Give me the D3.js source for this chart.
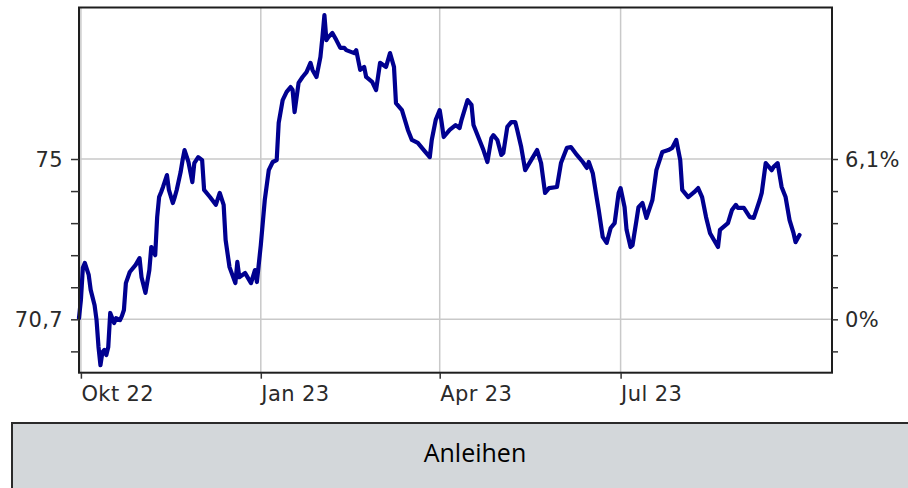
<!DOCTYPE html>
<html>
<head>
<meta charset="utf-8">
<script src="https://cdn.jsdelivr.net/npm/d3@7"></script>
<style>
  html, body { margin: 0; padding: 0; background: #fff; }
  svg { display: block; }
  .axis text { font-family: "DejaVu Sans", Verdana, sans-serif; font-size: 21px; letter-spacing: 0.4px; fill: #2a2a2a; }
  .axis line { stroke: #333; stroke-width: 1.5; }
  .axis path { display: none; }
</style>
</head>
<body>
<svg id="chart" width="908" height="488"></svg>
<script>
// ---------------- data ----------------
const dates = [
"2022-09-30","2022-10-01","2022-10-02","2022-10-03","2022-10-05","2022-10-06","2022-10-08","2022-10-09","2022-10-10","2022-10-11",
"2022-10-12","2022-10-13","2022-10-14","2022-10-15","2022-10-16","2022-10-18","2022-10-19","2022-10-21","2022-10-22","2022-10-23",
"2022-10-24","2022-10-26","2022-10-29","2022-10-31","2022-11-01","2022-11-03","2022-11-05","2022-11-06","2022-11-08","2022-11-09",
"2022-11-10","2022-11-11","2022-11-12","2022-11-14","2022-11-15","2022-11-17","2022-11-18","2022-11-19","2022-11-21","2022-11-22",
"2022-11-23","2022-11-25","2022-11-27","2022-11-28","2022-11-30","2022-12-02","2022-12-03","2022-12-06","2022-12-09","2022-12-11",
"2022-12-13","2022-12-14","2022-12-16","2022-12-19","2022-12-20","2022-12-21","2022-12-24","2022-12-27","2022-12-29","2022-12-30",
"2023-01-01","2023-01-03","2023-01-05","2023-01-07","2023-01-09","2023-01-10","2023-01-12","2023-01-14","2023-01-16","2023-01-17",
"2023-01-18","2023-01-20","2023-01-22","2023-01-24","2023-01-26","2023-01-27","2023-01-29","2023-01-31","2023-02-01","2023-02-02",
"2023-02-03","2023-02-04","2023-02-06","2023-02-08","2023-02-10","2023-02-12","2023-02-13","2023-02-17","2023-02-18","2023-02-20",
"2023-02-22","2023-02-23","2023-02-26","2023-02-28","2023-03-02","2023-03-05","2023-03-07","2023-03-09","2023-03-10","2023-03-13",
"2023-03-16","2023-03-18","2023-03-21","2023-03-24","2023-03-27","2023-03-28","2023-03-30","2023-04-01","2023-04-02","2023-04-03",
"2023-04-06","2023-04-09","2023-04-11","2023-04-12","2023-04-15","2023-04-17","2023-04-18","2023-04-21","2023-04-23","2023-04-25",
"2023-04-27","2023-04-28","2023-04-30","2023-05-02","2023-05-03","2023-05-05","2023-05-07","2023-05-09","2023-05-10","2023-05-12",
"2023-05-14","2023-05-17","2023-05-20","2023-05-22","2023-05-24","2023-05-26","2023-05-30","2023-06-01","2023-06-04","2023-06-06",
"2023-06-09","2023-06-12","2023-06-14","2023-06-15","2023-06-17","2023-06-19","2023-06-20","2023-06-22","2023-06-24","2023-06-26",
"2023-06-28","2023-06-30","2023-07-01","2023-07-03","2023-07-04","2023-07-06","2023-07-07","2023-07-09","2023-07-10","2023-07-12",
"2023-07-14","2023-07-17","2023-07-19","2023-07-22","2023-07-25","2023-07-27","2023-07-29","2023-07-31","2023-08-01","2023-08-04",
"2023-08-07","2023-08-09","2023-08-11","2023-08-13","2023-08-15","2023-08-19","2023-08-20","2023-08-24","2023-08-26","2023-08-28",
"2023-08-29","2023-09-01","2023-09-04","2023-09-06","2023-09-09","2023-09-10","2023-09-12","2023-09-15","2023-09-16","2023-09-18",
"2023-09-20","2023-09-22","2023-09-24","2023-09-26","2023-09-27","2023-09-29"
];
const values = [
70.73,71.22,72.08,72.21,71.89,71.49,71.08,70.68,69.96,69.47,
69.82,69.88,69.74,69.96,70.87,70.60,70.73,70.68,70.79,70.95,
71.67,71.97,72.16,72.34,71.83,71.41,72.02,72.64,72.42,73.44,
73.98,74.11,74.25,74.57,74.17,73.82,73.98,74.17,74.65,74.97,
75.24,74.92,74.38,74.89,75.05,74.97,74.17,73.98,73.77,74.09,
73.77,72.83,72.10,71.67,72.24,71.83,71.94,71.67,72.02,71.70,
72.69,73.90,74.70,74.92,74.97,75.97,76.58,76.80,76.93,76.85,
76.26,77.04,77.20,77.33,77.58,77.39,77.20,77.74,78.27,78.86,
78.19,78.27,78.38,78.19,77.98,77.98,77.92,77.84,77.92,77.39,
77.47,77.20,77.07,76.85,77.58,77.47,77.84,77.47,76.50,76.31,
75.78,75.51,75.43,75.24,75.05,75.51,76.05,76.31,75.97,75.59,
75.78,75.91,75.83,76.05,76.58,76.45,75.91,75.51,75.24,74.92,
75.56,75.64,75.51,75.11,75.16,75.86,75.99,75.99,75.78,75.32,
74.70,74.97,75.24,74.89,74.09,74.22,74.25,74.89,75.30,75.32,
75.11,74.92,74.76,74.92,74.62,73.95,73.63,72.91,72.75,73.15,
73.28,74.09,74.22,73.71,73.10,72.64,72.69,73.36,73.71,73.82,
73.42,73.90,74.70,75.19,75.24,75.30,75.51,74.97,74.17,73.98,
74.11,74.22,73.98,73.44,73.01,72.64,73.10,73.28,73.63,73.77,
73.69,73.69,73.44,73.42,73.90,74.09,74.89,74.70,74.79,74.89,
74.25,73.98,73.36,73.01,72.77,72.96
];

const xTickDates  = ["2022-10-01","2023-01-01","2023-04-01","2023-07-01"];
const xTickLabels = ["Okt 22","Jan 23","Apr 23","Jul 23"];

const yTickValues  = [69.84,70.7,71.56,72.42,73.28,74.14,75.0];
const yLabelValues = [70.7, 75.0];
const yLabels      = ["70,7","75"];
const rightLabels  = ["0%","6,1%"];
const yGridValues  = [70.7, 75.0];

const caption = "Anleihen";

// ---------------- layout ----------------
const W = 908, H = 488;
const plot = { left: 79, right: 832, top: 7.5, bottom: 372.7 };

const parse = d3.timeParse("%Y-%m-%d");
const data = dates.map((d, i) => ({ date: parse(d), value: values[i] }));

// equally spaced quarters (trading-day style axis)
const x = d3.scaleTime()
  .domain([parse("2022-10-01"), parse("2023-01-01"), parse("2023-07-01")])
  .range([80.9, 260.8, 620.6]);
const y = d3.scaleLinear()
  .domain([69.268, 79.064])
  .range([plot.bottom, plot.top]);

const svg = d3.select("#chart");
svg.append("rect").attr("width", W).attr("height", H).attr("fill", "#fff");

// grid
const grid = svg.append("g");
grid.selectAll("line.v").data(xTickDates.map(parse)).enter().append("line")
  .attr("x1", d => x(d)).attr("x2", d => x(d))
  .attr("y1", plot.top).attr("y2", plot.bottom)
  .attr("stroke", "#c9c9c9").attr("stroke-width", 1.5);
grid.selectAll("line.h").data(yGridValues).enter().append("line")
  .attr("x1", plot.left).attr("x2", plot.right)
  .attr("y1", d => y(d)).attr("y2", d => y(d))
  .attr("stroke", "#c9c9c9").attr("stroke-width", 1.5);

// line
const line = d3.line().x(d => x(d.date)).y(d => y(d.value));
svg.append("path").datum(data)
  .attr("d", line)
  .attr("fill", "none")
  .attr("stroke", "#000090")
  .attr("stroke-width", 4.2)
  .attr("stroke-linejoin", "round")
  .attr("stroke-linecap", "round");

// frame
svg.append("rect")
  .attr("x", plot.left).attr("y", plot.top)
  .attr("width", plot.right - plot.left).attr("height", plot.bottom - plot.top)
  .attr("fill", "none").attr("stroke", "#1e1e1e").attr("stroke-width", 2);

const pick = (arr) => v => {
  const i = yLabelValues.findIndex(l => Math.abs(l - v) < 1e-6);
  return i >= 0 ? arr[i] : "";
};

// left axis
svg.append("g").attr("class", "axis")
  .attr("transform", `translate(${plot.left},0)`)
  .call(d3.axisLeft(y).tickValues(yTickValues).tickSize(8).tickPadding(8).tickFormat(pick(yLabels)))
  .selectAll("text").attr("dy", "0.36em");

// right axis
svg.append("g").attr("class", "axis")
  .attr("transform", `translate(${plot.right},0)`)
  .call(d3.axisRight(y).tickValues(yTickValues).tickSize(6).tickPadding(7).tickFormat(pick(rightLabels)))
  .selectAll("text").attr("dy", "0.36em");

// bottom axis
const xa = svg.append("g").attr("class", "axis")
  .attr("transform", `translate(0,${plot.bottom})`)
  .call(d3.axisBottom(x).tickValues(xTickDates.map(parse)).tickSize(6)
    .tickFormat((d, i) => xTickLabels[i]));
xa.selectAll("text").attr("text-anchor", "start").attr("x", 0).attr("y", 13).attr("dy", "0.71em");

// caption box
svg.append("rect")
  .attr("x", 12).attr("y", 423).attr("width", 920).attr("height", 90)
  .attr("fill", "#d3d7da").attr("stroke", "#2a2a2a").attr("stroke-width", 2);
svg.append("text")
  .attr("x", 475).attr("y", 461.5)
  .attr("text-anchor", "middle")
  .attr("font-family", "'Open Sans', sans-serif")
  .attr("font-size", 25)
  .attr("fill", "#000")
  .text(caption);
</script>
</body>
</html>
